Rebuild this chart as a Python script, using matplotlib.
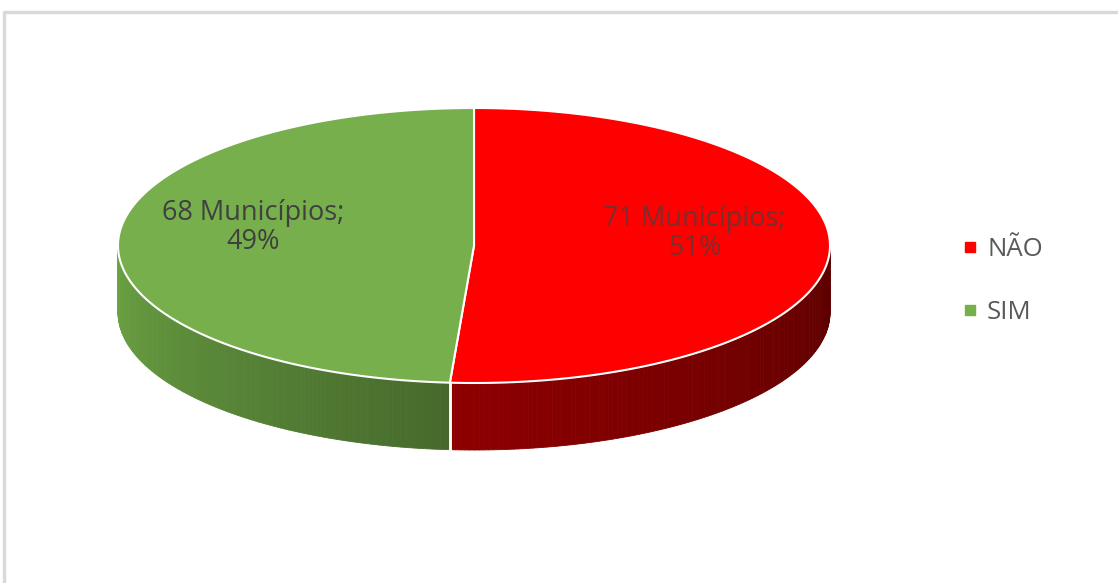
import numpy as np
import matplotlib.pyplot as plt
from matplotlib.patches import Polygon
from matplotlib.lines import Line2D
import matplotlib.colors as mcolors

# data
categories = ['NÃO', 'SIM']
municipios = [71, 68]
top_colors = ['#FF0000', '#76AF4B']
wall_colors = [('#8E0000', '#5C0000'), ('#6CA443', '#466A2C')]
label_colors = ['#7A2E2E', '#404040']

plt.rcParams['font.family'] = ['Open Sans', 'DejaVu Sans']

fig = plt.figure(figsize=(11.18, 5.83), dpi=100)
ax = fig.add_axes([0, 0, 1, 1])
ax.set_xlim(0, 1118)
ax.set_ylim(583, 0)
ax.axis('off')

# chart frame (only top/left edge visible in the crop)
ax.plot([4, 4, 1118], [583, 12, 12], color='#D9D9D9', lw=2.5, solid_capstyle='butt')

# ellipse geometry in pixels
cx, cy = 474, 245.5
a, b = 356, 137.5
depth = 67

def pt(t):
    t = np.radians(t)
    return cx + a * np.cos(t), cy - b * np.sin(t)

total = sum(municipios)
fracs = [v / total for v in municipios]
starts = []
s = 90.0
for f in fracs:
    starts.append((s, s - 360 * f))
    s -= 360 * f

# side walls (front half only, t in [-180, 0])
for (t0, t1), (c_a, c_b) in zip(starts, wall_colors):
    lo, hi = max(min(t0, t1), -180), min(max(t0, t1), 0)
    if hi <= lo:
        continue
    ts = np.linspace(lo, hi, 120)
    ca, cb = np.array(mcolors.to_rgb(c_a)), np.array(mcolors.to_rgb(c_b))
    for k in range(len(ts) - 1):
        x0, y0 = pt(ts[k])
        x1, y1 = pt(ts[k + 1])
        w = k / (len(ts) - 2)
        col = ca * (1 - w) + cb * w
        ax.add_patch(Polygon([(x0, y0), (x1, y1), (x1, y1 + depth), (x0, y0 + depth)],
                             closed=True, facecolor=col, edgecolor=col, lw=0.6))
    # separator on the wall
    for t in (lo, hi):
        if -179 < t < -1:
            x, y = pt(t)
            ax.plot([x, x], [y, y + depth], color='white', lw=1.8)

# top slices
for (t0, t1), col in zip(starts, top_colors):
    ts = np.linspace(t0, t1, 200)
    xs, ys = pt(ts)
    verts = [(cx, cy)] + list(zip(xs, ys))
    ax.add_patch(Polygon(verts, closed=True, facecolor=col, edgecolor='white', lw=1.5))

# data labels
for (t0, t1), n, f, lc in zip(starts, municipios, fracs, label_colors):
    xm, ym = pt((t0 + t1) / 2)
    lx = cx + 0.62 * (xm - cx)
    ly = cy + 0.62 * (ym - cy) - 15
    ax.text(lx, ly, f'{n} Municípios;\n{round(f * 100)}%', ha='center', va='center',
            fontsize=19.5, color=lc, linespacing=1.05)

# legend
handles = [Line2D([], [], marker='s', ls='', color=c, markersize=7) for c in top_colors]
leg = ax.legend(handles, categories, loc='center left', bbox_to_anchor=(946 / 1118, 1 - 281 / 583),
                frameon=False, fontsize=18.5, labelspacing=1.45, handletextpad=0.2,
                handlelength=0.9, borderpad=0)
for t in leg.get_texts():
    t.set_color('#595959')

plt.savefig('out.png', dpi=100)
